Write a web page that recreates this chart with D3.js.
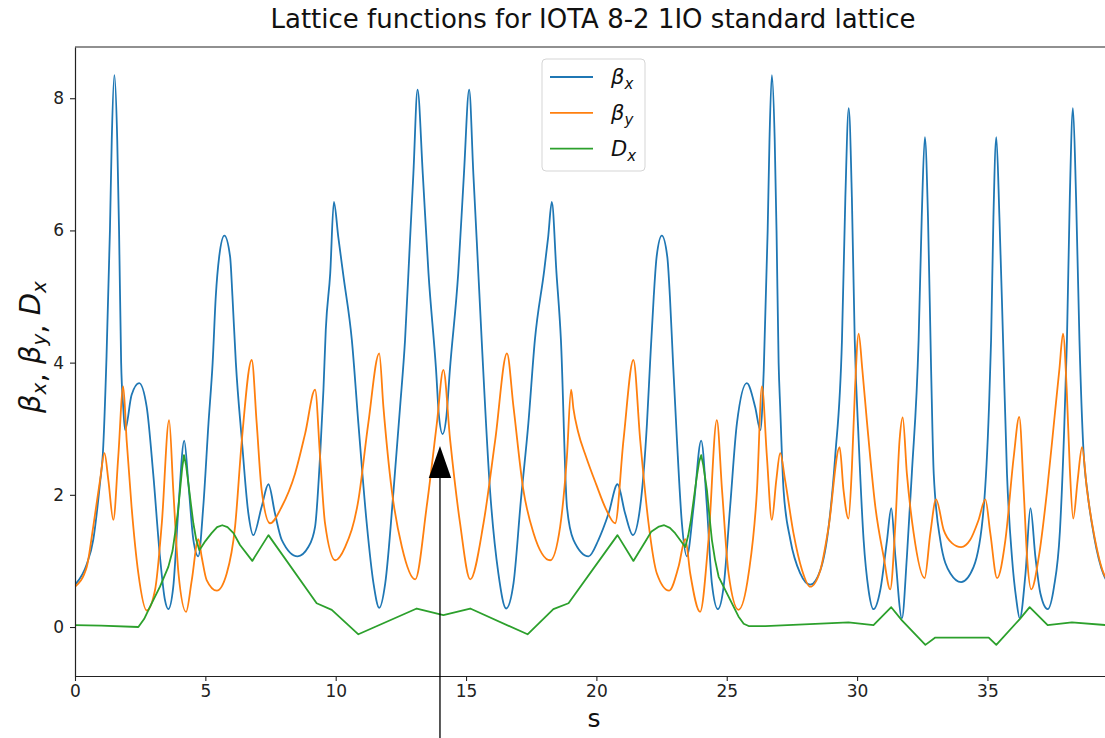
<!DOCTYPE html>
<html>
<head>
<meta charset="utf-8">
<script src="https://cdn.jsdelivr.net/npm/d3@7"></script>
<style>
  body { margin: 0; background: #fff; }
  text { font-family: "DejaVu Sans", sans-serif; }
</style>
</head>
<body>
<script>
// lattice functions, [s, value]
var betaX = [[0,0.64],[0.45,0.95],[0.70,1.32],[0.96,2.18],[1.07,2.63],[1.21,4.1],[1.34,6.0],[1.41,7.37],[1.51,8.35],
  [1.62,7.37],[1.69,6.0],[1.77,4.0],[1.85,3.33],[1.92,2.98],[2.17,3.51],[2.46,3.69],[2.75,3.33],[3.0,2.32],[3.26,1.06],
  [3.45,0.41],[3.58,0.27],[3.77,0.61],[3.97,1.82],[4.19,2.82],[4.35,2.17],[4.54,1.32],[4.73,1.07],[4.92,1.82],[5.12,3.08],
  [5.28,4.0],[5.40,5.0],[5.53,5.6],[5.73,5.92],[5.95,5.6],[6.04,5.0],[6.17,4.0],[6.40,2.83],[6.65,1.72],[6.84,1.39],
  [7.16,1.82],[7.42,2.16],[7.67,1.72],[7.93,1.32],[8.54,1.07],[8.95,1.21],[9.21,1.52],[9.40,2.58],[9.53,3.59],[9.62,4.5],
  [9.79,5.35],[9.93,6.43],[10.1,5.9],[10.3,5.3],[10.62,4.34],[10.87,3.08],[11.19,1.57],[11.45,0.66],[11.67,0.29],
  [11.9,0.66],[12.22,2.07],[12.47,3.33],[12.66,4.34],[12.85,5.85],[12.98,6.86],[13.14,8.13],[13.34,6.86],[13.56,5.35],
  [13.85,3.89],[13.96,3.2],[14.1,2.92],[14.25,3.2],[14.38,3.89],[14.7,5.35],[14.92,6.86],[15.12,8.13],[15.28,6.86],
  [15.41,5.85],[15.6,4.34],[15.92,2.07],[16.24,0.81],[16.54,0.28],[16.82,0.66],[17.1,1.9],[17.39,3.08],[17.64,4.34],
  [18.0,5.4],[18.15,5.9],[18.29,6.43],[18.47,5.35],[18.64,4.34],[18.87,1.82],[19.12,1.32],[19.7,1.07],[20.08,1.32],
  [20.47,1.72],[20.81,2.16],[21.1,1.72],[21.4,1.39],[21.68,1.82],[21.94,3.08],[22.06,4.0],[22.2,5.0],[22.31,5.6],
  [22.51,5.92],[22.72,5.6],[22.82,5.0],[22.94,4.0],[23.09,2.83],[23.28,1.57],[23.47,1.07],[23.73,1.82],[24.02,2.82],
  [24.24,1.82],[24.43,0.66],[24.66,0.27],[24.88,0.61],[25.13,1.82],[25.39,3.08],[25.77,3.69],[26.09,3.33],[26.29,2.98],
  [26.42,3.89],[26.57,6.0],[26.64,7.37],[26.73,8.35],[26.84,7.37],[26.91,6.0],[26.99,4.0],[27.05,3.33],[27.18,2.07],
  [27.44,1.32],[27.82,0.81],[28.2,0.64],[28.59,0.86],[28.91,1.52],[29.16,2.58],[29.42,4.34],[29.55,6.5],[29.68,7.85],
  [29.8,6.5],[29.91,4.34],[30.06,2.83],[30.25,1.32],[30.44,0.56],[30.63,0.27],[30.89,0.56],[31.15,1.32],[31.31,1.8],
  [31.47,1.06],[31.72,0.13],[31.91,1.06],[32.1,2.32],[32.36,4.34],[32.48,6.2],[32.6,7.41],[32.72,6.2],[32.84,3.89],
  [32.94,2.32],[33.19,1.32],[33.58,0.81],[33.99,0.68],[34.47,0.91],[34.86,1.82],[35.06,3.33],[35.14,4.34],[35.23,6.2],
  [35.34,7.41],[35.46,6.2],[35.6,4.34],[35.75,2.32],[35.94,1.06],[36.11,0.41],[36.24,0.13],[36.46,0.81],[36.65,1.8],
  [36.84,1.06],[37.03,0.51],[37.31,0.27],[37.55,0.6],[37.78,1.45],[37.93,2.83],[38.05,4.34],[38.16,6.5],[38.28,7.85],
  [38.4,6.5],[38.53,4.34],[38.68,2.7],[38.85,2.0],[39.1,1.35],[39.45,0.8],[39.76,0.64],[39.97,0.66]];

var betaY = [[0,0.61],[0.45,0.91],[0.70,1.52],[0.96,2.22],[1.13,2.63],[1.28,2.22],[1.47,1.62],[1.66,2.58],[1.85,3.64],
  [1.98,2.83],[2.17,1.82],[2.43,0.81],[2.75,0.25],[3.07,0.56],[3.33,1.57],[3.61,3.13],[3.77,2.07],[3.97,0.81],[4.26,0.23],
  [4.48,0.71],[4.73,1.33],[4.86,1.06],[5.05,0.71],[5.44,0.55],[5.82,0.81],[6.14,1.52],[6.40,2.83],[6.78,4.04],[6.97,3.08],
  [7.16,2.07],[7.48,1.57],[7.93,1.82],[8.44,2.32],[8.83,2.93],[9.21,3.59],[9.40,2.58],[9.59,1.57],[9.98,1.01],[10.36,1.21],
  [10.87,1.92],[11.25,3.08],[11.67,4.14],[11.83,3.33],[12.15,2.07],[12.54,1.21],[13.05,0.72],[13.49,1.82],[13.88,3.08],
  [14.13,3.89],[14.39,2.83],[14.77,1.57],[15.16,0.72],[15.67,1.57],[16.12,2.83],[16.57,4.14],[16.82,3.33],[17.2,2.07],
  [17.59,1.42],[18.23,1.01],[18.61,1.52],[18.87,2.58],[19.03,3.59],[19.12,3.3],[19.3,2.95],[19.6,2.58],[20.0,2.15],
  [20.35,1.8],[20.72,1.57],[21.04,2.83],[21.42,4.04],[21.68,2.83],[22.0,1.57],[22.32,0.81],[22.79,0.55],[23.15,0.91],
  [23.41,1.33],[23.6,0.81],[23.98,0.23],[24.3,1.32],[24.62,3.13],[24.82,2.07],[25.07,0.81],[25.45,0.26],[25.84,0.81],
  [26.16,2.07],[26.35,3.64],[26.54,2.58],[26.73,1.62],[26.9,2.22],[27.05,2.63],[27.24,2.22],[27.56,1.42],[27.89,0.86],
  [28.2,0.61],[28.59,0.86],[28.91,1.52],[29.33,2.72],[29.48,2.07],[29.67,1.64],[29.8,2.4],[29.92,3.6],[30.06,4.44],
  [30.2,3.9],[30.38,3.1],[30.7,1.82],[31.02,1.06],[31.27,0.57],[31.47,1.57],[31.63,2.83],[31.75,3.17],[31.91,2.32],
  [32.17,1.42],[32.59,0.74],[32.81,1.42],[33.03,1.93],[33.32,1.47],[33.64,1.27],[33.99,1.21],[34.34,1.32],[34.66,1.62],
  [34.92,1.93],[35.11,1.42],[35.37,0.74],[35.69,1.32],[36.01,2.58],[36.22,3.18],[36.39,2.07],[36.52,1.06],[36.68,0.57],
  [36.97,1.06],[37.29,2.07],[37.58,3.2],[37.76,3.9],[37.9,4.44],[38.04,3.6],[38.16,2.4],[38.29,1.64],[38.46,2.22],
  [38.63,2.72],[38.82,2.07],[39.08,1.42],[39.52,0.76],[39.97,0.61]];

var dispX = [[0,0.03],[1.0,0.02],[2.43,0.0],[2.65,0.12],[2.88,0.31],[3.26,0.61],[3.58,0.91],[3.74,1.15],[3.84,1.42],
  [3.95,1.75],[4.03,2.07],[4.11,2.4],[4.18,2.6],[4.26,2.45],[4.35,2.17],[4.45,1.85],[4.54,1.57],[4.65,1.32],[4.77,1.16],
  [5.0,1.3],[5.24,1.42],[5.45,1.51],[5.65,1.54],[5.85,1.51],[6.08,1.42],[6.33,1.24],[6.8,1.0],[7.42,1.39],[9.27,0.36],
  [9.85,0.26],[10.87,-0.11],[13.11,0.28],[14.13,0.18],[15.16,0.28],[17.36,-0.11],[18.35,0.27],[18.93,0.36],[20.81,1.39],
  [21.42,1.0],[21.89,1.3],[22.1,1.44],[22.4,1.52],[22.6,1.54],[22.82,1.5],[23.02,1.42],[23.41,1.21],[23.52,1.38],
  [23.62,1.6],[23.74,1.95],[23.85,2.27],[23.94,2.5],[24.02,2.6],[24.1,2.45],[24.24,2.07],[24.33,1.7],[24.43,1.32],
  [24.55,1.02],[24.69,0.76],[25.07,0.46],[25.45,0.16],[25.65,0.05],[25.84,0.015],[26.48,0.015],[29.67,0.07],[30.63,0.03],
  [31.31,0.3],[31.72,0.1],[32.62,-0.27],[33.0,-0.16],[35.05,-0.16],[35.34,-0.27],[36.24,0.12],[36.62,0.3],[37.31,0.03],
  [38.24,0.07],[39.52,0.03],[39.97,0.03]];

var series = [
  {name: 'β', sub: 'x', color: '#1f77b4', data: betaX, curve: d3.curveMonotoneX},
  {name: 'β', sub: 'y', color: '#ff7f0e', data: betaY, curve: d3.curveMonotoneX},
  {name: 'D', sub: 'x', color: '#2ca02c', data: dispX, curve: d3.curveLinear}
];

var xTicks = [0, 5, 10, 15, 20, 25, 30, 35];
var yTicks = [0, 2, 4, 6, 8];
var sMax = 39.97;
var arrowS = 14;
var arrowTip = 2.74;

window.onload = function() {
  var width = 1105;
  var height = 738;
  var left = 75, top = 47, right = 1117, bottom = 676;

  var svg = d3.select('body').append('svg')
              .attr('width', width)
              .attr('height', height);

  var x = d3.scaleLinear().domain([0, sMax]).range([left, right]);
  var y = d3.scaleLinear().domain([-0.741, 8.775]).range([bottom, top]);

  svg.append('clipPath').attr('id', 'plot')
     .append('rect')
     .attr('x', left).attr('y', top)
     .attr('width', right - left).attr('height', bottom - top);

  svg.append('g').attr('clip-path', 'url(#plot)')
     .selectAll('path').data(series)
     .enter()
     .append('path')
     .attr('d', function(d) {
       return d3.line()
                .x(function(p) { return x(p[0]); })
                .y(function(p) { return y(p[1]); })
                .curve(d.curve)(d.data);
     })
     .attr('fill', 'none')
     .attr('stroke', function(d) { return d.color; })
     .attr('stroke-width', 1.8)
     .attr('stroke-linejoin', 'round');

  // axes
  var xAxis = svg.append('g')
                 .attr('transform', 'translate(0,' + bottom + ')')
                 .call(d3.axisBottom(x).tickValues(xTicks).tickSize(5).tickSizeOuter(0).tickPadding(4));
  var yAxis = svg.append('g')
                 .attr('transform', 'translate(' + left + ',0)')
                 .call(d3.axisLeft(y).tickValues(yTicks).tickSize(5).tickSizeOuter(0).tickPadding(6));
  [xAxis, yAxis].forEach(function(g) {
    g.selectAll('text').attr('font-size', 17).attr('fill', '#222')
     .attr('font-family', '"DejaVu Sans", sans-serif');
    g.selectAll('line').attr('stroke', '#222').attr('stroke-width', 1.1);
    g.select('.domain').attr('stroke', '#222').attr('stroke-width', 1.2);
  });
  svg.append('line')
     .attr('x1', left).attr('x2', right)
     .attr('y1', top).attr('y2', top)
     .attr('stroke', '#222').attr('stroke-width', 1.2);

  // title and labels
  svg.append('text')
     .attr('x', 593).attr('y', 28)
     .attr('text-anchor', 'middle')
     .attr('font-size', 26).attr('fill', '#111')
     .text('Lattice functions for IOTA 8-2 1IO standard lattice');

  svg.append('text')
     .attr('x', 594).attr('y', 727)
     .attr('text-anchor', 'middle')
     .attr('font-size', 25).attr('fill', '#111')
     .text('s');

  var ylab = svg.append('text')
                .attr('transform', 'translate(40,' + 347 + ') rotate(-90)')
                .attr('text-anchor', 'middle')
                .attr('font-size', 29).attr('fill', '#111');
  series.forEach(function(d, i) {
    ylab.append('tspan').attr('font-style', 'italic').attr('dy', i === 0 ? 0 : -6).text(d.name);
    ylab.append('tspan').attr('font-style', 'italic').attr('font-size', 20).attr('dy', 6).text(d.sub);
    if (i < series.length - 1) ylab.append('tspan').attr('dy', 0).text(', ');
  });

  // legend
  var lg = svg.append('g').attr('transform', 'translate(542,59)');
  lg.append('rect')
    .attr('width', 103).attr('height', 112)
    .attr('rx', 4)
    .attr('fill', '#fff').attr('fill-opacity', 0.8)
    .attr('stroke', '#d5d5d5');
  var items = lg.selectAll('.item').data(series)
                .enter()
                .append('g')
                .attr('class', 'item')
                .attr('transform', function(d, i) { return 'translate(0,' + (18 + i * 35.8) + ')'; });
  items.append('line')
       .attr('x1', 8).attr('x2', 51)
       .attr('stroke', function(d) { return d.color; })
       .attr('stroke-width', 1.8);
  var lt = items.append('text')
                .attr('x', 69).attr('y', 7)
                .attr('font-size', 21).attr('fill', '#111');
  lt.append('tspan').attr('font-style', 'italic').text(function(d) { return d.name; });
  lt.append('tspan').attr('font-style', 'italic').attr('font-size', 15).attr('dy', 5)
    .text(function(d) { return d.sub; });

  // arrow pointing at s = 14
  var tipY = y(arrowTip);
  svg.append('line')
     .attr('x1', x(arrowS)).attr('x2', x(arrowS))
     .attr('y1', height).attr('y2', tipY + 30)
     .attr('stroke', '#000').attr('stroke-width', 1.3);
  svg.append('path')
     .attr('d', 'M' + x(arrowS) + ',' + tipY + 'L' + (x(arrowS) - 11.2) + ',' + (tipY + 32) +
                'L' + (x(arrowS) + 11.2) + ',' + (tipY + 32) + 'Z')
     .attr('fill', '#000');
};
</script>
</body>
</html>
